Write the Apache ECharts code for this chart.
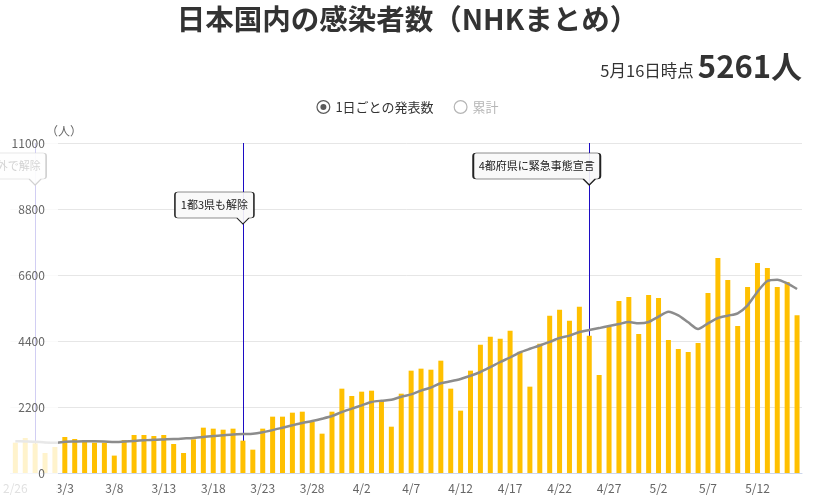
<!DOCTYPE html>
<html>
<head>
<meta charset="utf-8">
<script src="https://cdn.jsdelivr.net/npm/echarts@6/dist/echarts.min.js"></script>
<style>
html,body{margin:0;padding:0;background:#fff;}
#chart{width:815px;height:504px;}
</style>
</head>
<body>
<div id="chart"></div>
<script>
// ---- data ----
const categories = [
 '2/26','2/27','2/28',
 '3/1','3/2','3/3','3/4','3/5','3/6','3/7','3/8','3/9','3/10','3/11','3/12','3/13','3/14','3/15','3/16',
 '3/17','3/18','3/19','3/20','3/21','3/22','3/23','3/24','3/25','3/26','3/27','3/28','3/29','3/30','3/31',
 '4/1','4/2','4/3','4/4','4/5','4/6','4/7','4/8','4/9','4/10','4/11','4/12','4/13','4/14','4/15',
 '4/16','4/17','4/18','4/19','4/20','4/21','4/22','4/23','4/24','4/25','4/26','4/27','4/28','4/29','4/30',
 '5/1','5/2','5/3','5/4','5/5','5/6','5/7','5/8','5/9','5/10','5/11','5/12','5/13','5/14','5/15','5/16'
];
const dailyCases = [
 1010,1167,989,
 667,867,1200,1133,1100,1011,1011,580,1100,1267,1267,1233,1267,967,667,1122,
 1511,1478,1444,1478,1078,778,1478,1878,1878,2011,2044,1711,1311,2044,2811,
 2567,2711,2744,2411,1544,2644,3411,3478,3444,3744,2811,2078,3411,4278,4544,
 4478,4744,4044,2878,4311,5244,5444,5078,5544,4578,3267,4878,5733,5867,4633,
 5933,5833,4433,4133,4033,4333,6000,7167,6433,4900,6200,7000,6833,6200,6367,5261
];
const movingAvg = [
 1060,1050,1040,
 1020,1010,1040,1050,1060,1060,1050,1030,1050,1070,1090,1110,1120,1130,1150,1170,
 1200,1235,1260,1285,1300,1310,1360,1430,1510,1590,1667,1733,1811,1900,2033,
 2144,2256,2367,2410,2440,2544,2620,2744,2850,2990,3056,3133,3240,3367,3530,
 3700,3850,4020,4140,4250,4370,4500,4578,4700,4767,4830,4900,4967,5033,4989,
 5033,5211,5378,5256,5022,4800,4989,5167,5244,5322,5589,6044,6400,6444,6322,6133
];
const yTicks = {min: 0, max: 11000, interval: 2200};
const events = [
 {date: '2/28', text: '首都圏以外で解除', level: 9600},
 {date: '3/21', text: '1都3県も解除', level: 8300},
 {date: '4/25', text: '4都府県に緊急事態宣言', level: 9600}
];
const latestLabel = '5月16日時点';
const latestValue = '5261人';
const seriesNames = ['1日ごとの発表数', '累計'];

// ---- helpers ----
const FONT = "'Noto Sans CJK JP', 'Noto Sans', sans-serif";
const BOXH = 26, PH = 6, PW = 6, PR = 11;
function calloutPath(w) {
  const px = w - PR, h = BOXH;
  return 'path://M3,0 L' + (w - 3) + ',0 Q' + w + ',0 ' + w + ',3 L' + w + ',' + (h - 3) +
    ' Q' + w + ',' + h + ' ' + (w - 3) + ',' + h + ' L' + (px + PW) + ',' + h +
    ' L' + px + ',' + (h + PH) + ' L' + (px - PW) + ',' + h + ' L3,' + h +
    ' Q0,' + h + ' 0,' + (h - 3) + ' L0,3 Q0,0 3,0 Z';
}
function textWidth(t) {
  let w = 0;
  for (const ch of t) w += /[0-9]/.test(ch) ? 6.4 : 11;
  return w;
}
const markPoints = events.map(e => {
  const w = Math.round(textWidth(e.text) + 11);
  return {
    name: e.text,
    coord: [e.date, e.level],
    symbol: calloutPath(w),
    symbolSize: [w, BOXH + PH],
    symbolKeepAspect: false,
    symbolOffset: [PR - w / 2, -(BOXH + PH) / 2]
  };
});

const ringSel = 'path://M0,7 A7,7 0 1,1 14,7 A7,7 0 1,1 0,7 Z M1.2,7 A5.8,5.8 0 1,0 12.8,7 A5.8,5.8 0 1,0 1.2,7 Z M4,7 A3,3 0 1,1 10,7 A3,3 0 1,1 4,7 Z';
const ringOff = 'path://M0,7 A7,7 0 1,1 14,7 A7,7 0 1,1 0,7 Z M1.2,7 A5.8,5.8 0 1,0 12.8,7 A5.8,5.8 0 1,0 1.2,7 Z';

const chart = echarts.init(document.getElementById('chart'));
const option = {
  animation: false,
  textStyle: {fontFamily: FONT},
  title: [
    {
      text: '日本国内の感染者数（NHKまとめ）',
      left: 'center', top: 0,
      textStyle: {fontFamily: FONT, fontSize: 28.5, fontWeight: 'bold', color: '#333'}
    },
    {
      text: '{a|' + latestLabel + '} {b|' + latestValue + '}',
      right: 8, top: 46,
      textStyle: {
        fontWeight: 'normal',
        rich: {
          a: {fontFamily: FONT, fontSize: 16.5, fontWeight: 'normal', color: '#333', verticalAlign: 'bottom', padding: [0, 0, 3, 0]},
          b: {fontFamily: FONT, fontSize: 31, fontWeight: 'bold', color: '#333', verticalAlign: 'bottom'}
        }
      }
    }
  ],
  legend: {
    top: 95, left: 'center',
    itemWidth: 14, itemHeight: 14, itemGap: 20,
    inactiveColor: '#b5b5b5',
    textStyle: {fontFamily: FONT, fontSize: 13, color: '#333'},
    selected: {[seriesNames[1]]: false},
    data: [
      {name: seriesNames[0], icon: ringSel, itemStyle: {color: '#5a5a5a'}},
      {name: seriesNames[1], icon: ringOff, itemStyle: {color: '#5a5a5a'}}
    ]
  },
  grid: {left: 9.5, right: 13, top: 143, bottom: 31, containLabel: false},
  xAxis: {
    type: 'category',
    data: categories,
    boundaryGap: true,
    axisLine: {lineStyle: {color: '#ccd6eb'}},
    axisTick: {show: false},
    axisLabel: {interval: 4, color: '#666', fontSize: 12, margin: 9, fontFamily: FONT}
  },
  yAxis: [
    {
      type: 'value', min: yTicks.min, max: yTicks.max, interval: yTicks.interval,
      axisLabel: {show: false},
      axisLine: {show: false}, axisTick: {show: false},
      splitLine: {lineStyle: {color: '#e6e6e6'}}
    },
    {
      type: 'value', min: yTicks.min, max: yTicks.max, interval: yTicks.interval,
      position: 'left', offset: -35.5, z: 60,
      name: '（人）', nameLocation: 'end', nameGap: 6,
      nameTextStyle: {align: 'left', color: '#666', fontSize: 12, fontFamily: FONT},
      axisLabel: {color: '#666', fontSize: 12, margin: 1, fontFamily: FONT,
                  formatter: v => String(v)},
      axisLine: {show: false}, axisTick: {show: false},
      splitLine: {show: false}
    }
  ],
  graphic: [
    {type: 'rect', z: 50, silent: true, shape: {x: 0, y: 140, width: 58, height: 364},
     style: {fill: 'rgba(255,255,255,0.8)'}}
  ],
  series: [
    {
      name: seriesNames[0], type: 'bar', data: dailyCases, barWidth: 5, z: 2,
      itemStyle: {color: '#ffc000'},
      markLine: {
        silent: true, symbol: 'none', z: 1,
        label: {show: false},
        lineStyle: {color: '#1c0cc4', width: 1, type: 'solid'},
        data: events.map(e => ({xAxis: e.date}))
      },
      markPoint: {
        silent: true, z: 6,
        itemStyle: {color: 'rgba(248,248,248,0.92)', borderColor: '#222', borderWidth: 1},
        label: {show: true, position: 'inside', formatter: '{b}', color: '#222', fontSize: 11,
                fontFamily: FONT, offset: [0, -3]},
        data: markPoints
      }
    },
    {
      name: '7日間平均', type: 'line', data: movingAvg, z: 3,
      symbol: 'none', smooth: 0.25,
      lineStyle: {color: '#8c8c8c', width: 2.5},
      itemStyle: {color: '#8c8c8c'}
    },
    {
      name: seriesNames[1], type: 'line', data: [], symbol: 'none',
      itemStyle: {color: '#5a5a5a'}
    }
  ]
};
chart.setOption(option);
</script>
</body>
</html>
